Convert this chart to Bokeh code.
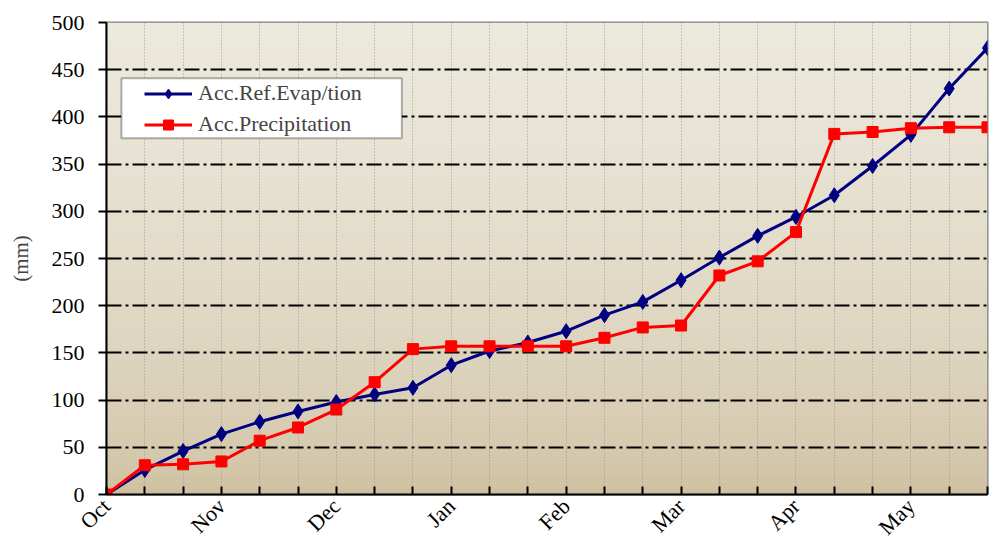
import numpy as np
from math import pi
from bokeh.plotting import figure
from bokeh.models import Range1d, FixedTicker, Legend, LegendItem, BoxAnnotation
from bokeh.embed import file_html
from bokeh.resources import INLINE

# ---- data (10-day periods from 1 Oct) ----
months = ["Oct", "Nov", "Dec", "Jan", "Feb", "Mar", "Apr", "May"]
dekad = list(range(24))
acc_ref_evap = [0, 26, 46, 64, 77, 88, 98, 106, 113, 137, 152, 161,
                173, 190, 204, 227, 251, 274, 294, 317, 348, 381, 430, 473]
acc_precip = [0, 31, 32, 35, 57, 71, 90, 119, 154, 157, 157, 157,
              157, 166, 177, 179, 232, 247, 278, 382, 384, 388, 389, 389]
y_ticks = list(range(0, 501, 50))

FONT = "Liberation Serif"

p = figure(width=995, height=551, output_backend="svg", toolbar_location=None,
           x_range=Range1d(0, 23), y_range=Range1d(0, 500),
           min_border_left=106, min_border_right=8, min_border_top=22,
           min_border_bottom=55, background_fill_color="white",
           border_fill_color="white")

# gradient background of plot area
n = 256
t = np.linspace(0, 1, n)[:, None]
top = np.array([237, 234, 222])
bot = np.array([205, 190, 157])
w = t ** 0.55
cols = bot + (top - bot) * w
img = np.empty((n, 2), dtype=np.uint32)
view = img.view(dtype=np.uint8).reshape((n, 2, 4))
view[:, :, 0] = cols[:, 0:1].astype(np.uint8)
view[:, :, 1] = cols[:, 1:2].astype(np.uint8)
view[:, :, 2] = cols[:, 2:3].astype(np.uint8)
view[:, :, 3] = 255
p.image_rgba(image=[img], x=0, y=0, dw=23, dh=500, level="image")

# grids
p.xgrid.grid_line_color = "#9a9a9a"
p.xgrid.grid_line_dash = "1 2"
p.xgrid.grid_line_width = 1
p.ygrid.grid_line_color = "black"
p.ygrid.grid_line_dash = "15 4 3 4"
p.ygrid.grid_line_width = 2
p.xgrid.level = "underlay"
p.ygrid.level = "underlay"

p.outline_line_color = "#7f7f7f"
p.outline_line_width = 2

# series
l1 = p.line(dekad, acc_ref_evap, line_color="#000080", line_width=3)
m1 = p.scatter(dekad, acc_ref_evap, marker="diamond", size=15,
               fill_color="#000080", line_color="#000080")
l2 = p.line(dekad, acc_precip, line_color="#ff0000", line_width=3)
m2 = p.scatter(dekad, acc_precip, marker="square", size=11,
               fill_color="#ff0000", line_color="#ff0000")

# axes
p.xaxis.ticker = FixedTicker(ticks=dekad)
p.xaxis.major_label_overrides = {i: (months[i // 3] if i % 3 == 0 else "") for i in dekad}
p.xaxis.major_label_orientation = pi / 4
p.xaxis.major_tick_in = 8
p.xaxis.major_tick_out = 0
p.xaxis.minor_tick_line_color = None
p.xaxis.major_label_standoff = 8
p.yaxis.ticker = FixedTicker(ticks=y_ticks)
p.yaxis.major_tick_in = 0
p.yaxis.major_tick_out = 8
p.yaxis.minor_tick_line_color = None
p.yaxis.major_label_standoff = 14
for ax in (p.xaxis[0], p.yaxis[0]):
    ax.axis_line_color = "black"
    ax.axis_line_width = 2
    ax.major_tick_line_color = "black"
    ax.major_tick_line_width = 2
    ax.major_label_text_font = FONT
    ax.major_label_text_font_size = "22px"
    ax.major_label_text_color = "black"
p.yaxis.axis_label = "(mm)"
p.yaxis.axis_label_text_font = FONT
p.yaxis.axis_label_text_font_size = "21px"
p.yaxis.axis_label_text_font_style = "normal"
p.yaxis.axis_label_standoff = 16

# legend frame (decoration) behind a transparent legend
box = BoxAnnotation(left=0.39, right=7.71, bottom=377.5, top=441,
                    fill_color="white", fill_alpha=1,
                    line_color="black", line_width=2, level="annotation")
p.add_layout(box)

legend = Legend(items=[LegendItem(label="Acc.Ref.Evap/tion", renderers=[l1, m1]),
                       LegendItem(label="Acc.Precipitation", renderers=[l2, m2])],
                location=(38, 357), label_text_font=FONT,
                label_text_font_size="22px", glyph_width=48, glyph_height=25,
                label_height=25, spacing=5, padding=4, margin=0,
                label_standoff=6, border_line_color=None,
                background_fill_alpha=0)
p.add_layout(legend, "center")

open("out.html", "w").write(file_html(p, INLINE))
